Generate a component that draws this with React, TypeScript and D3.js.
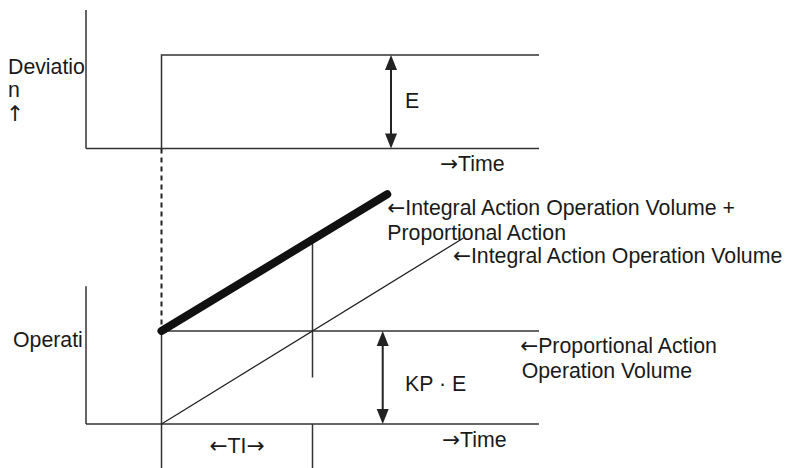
import * as d3 from 'd3'

// time axis (arbitrary units): step input at t=1, TI = 2 units
const timeDomain = [0, 6]
const stepTime = 1
const tiEndTime = 3

// deviation panel (E = 1)
const deviationStep = [
  { t: 1, v: 0 },
  { t: 1, v: 1 },
  { t: 6, v: 1 },
]
// operation panel (KP·E = 1)
const proportionalLine = [
  { t: 1, v: 1 },
  { t: 6, v: 1 },
]
const integralLine = [
  { t: 1, v: 0 },
  { t: 5, v: 2 },
]
const combinedLine = [
  { t: 1, v: 1 },
  { t: 3.99, v: 2.47 },
]
const axisTop = 1.48
const eArrowTime = 4.04
const kpArrowTime = 3.93

const rightLabels = [
  { text: '←Integral Action Operation Volume +', t: 3.99, v: 2.25 },
  { text: 'Proportional Action', t: 3.99, v: 1.98 },
  { text: '←Integral Action Operation Volume', t: 4.86, v: 1.73 },
  { text: '←Proportional Action', t: 5.75, v: 0.765 },
  { text: 'Operation Volume', t: 5.77, v: 0.495 },
]

const INK = '#333'
const FONT = '"Liberation Sans", Arial, Helvetica, sans-serif'
const ARROW_FONT = '"DejaVu Sans", sans-serif'

// arrows are drawn with DejaVu so they get full-size glyphs
function Label({ x, y, text, anchor }: { x: number; y: number; text: string; anchor?: string }) {
  const parts = text.split(/([←→↑])/).filter(p => p !== '')
  return (
    <text x={x} y={y} textAnchor={anchor ?? 'start'} style={{ fontFamily: FONT, fontSize: 21.3, fill: '#1a1a1a' }}>
      {parts.map((p, i) =>
        /[←→↑]/.test(p)
          ? <tspan key={i} style={{ fontFamily: ARROW_FONT, fontSize: 21.5 }}>{p}</tspan>
          : <tspan key={i}>{p}</tspan>
      )}
    </text>
  )
}

export default function App() {
  const width = 788
  const height = 468

  const x = d3.scaleLinear().domain(timeDomain).range([86, 539])
  const yTop = d3.scaleLinear().domain([0, 1]).range([148.5, 55])
  const yBot = d3.scaleLinear().domain([0, 1]).range([424, 331])

  const lineTop = d3.line<{ t: number; v: number }>().x(d => x(d.t)).y(d => yTop(d.v))
  const lineBot = d3.line<{ t: number; v: number }>().x(d => x(d.t)).y(d => yBot(d.v))

  const arrow = (xp: number, y1: number, y2: number) => {
    const hw = 6
    const hl = 15
    return (
      <g>
        <line x1={xp} x2={xp} y1={y1 + hl - 2} y2={y2 - hl + 2} stroke="#222" strokeWidth={2} />
        <path d={`M${xp},${y1} L${xp - hw},${y1 + hl} L${xp + hw},${y1 + hl} Z`} fill="#222" />
        <path d={`M${xp},${y2} L${xp - hw},${y2 - hl} L${xp + hw},${y2 - hl} Z`} fill="#222" />
      </g>
    )
  }

  return (
    <svg width={width} height={height} style={{ position: 'absolute', left: 0, top: 0, background: '#fff' }}>
      {/* Deviation panel */}
      <g>
        <line x1={x(0)} x2={x(0)} y1={yTop(axisTop)} y2={yTop(0)} stroke={INK} strokeWidth={1.5} />
        <line x1={x(0)} x2={x(6)} y1={yTop(0)} y2={yTop(0)} stroke={INK} strokeWidth={1.5} />
        <path d={lineTop(deviationStep) ?? ''} fill="none" stroke={INK} strokeWidth={1.5} />
        {arrow(x(eArrowTime), yTop(1), yTop(0))}
        <Label x={x(4.225)} y={yTop(0.433)} text="E" />
        <Label x={x(4.69)} y={yTop(-0.24)} text="→Time" />
        <Label x={8} y={74} text="Deviatio" />
        <Label x={8} y={97} text="n" />
        <Label x={6} y={121} text="↑" />
      </g>

      {/* step marker connecting both panels */}
      <line
        x1={x(stepTime)} x2={x(stepTime)}
        y1={yTop(0)} y2={yBot(1)}
        stroke="#222" strokeWidth={2} strokeDasharray="5,4"
      />

      {/* Operation panel */}
      <g>
        <line x1={x(0)} x2={x(0)} y1={yBot(axisTop)} y2={yBot(0)} stroke={INK} strokeWidth={1.5} />
        <line x1={x(0)} x2={x(6)} y1={yBot(0)} y2={yBot(0)} stroke={INK} strokeWidth={1.5} />
        <line x1={x(stepTime)} x2={x(stepTime)} y1={yBot(1)} y2={yBot(-0.48)} stroke={INK} strokeWidth={1.5} />
        <line x1={x(tiEndTime)} x2={x(tiEndTime)} y1={yBot(2)} y2={yBot(0.5)} stroke={INK} strokeWidth={1.5} />
        <line x1={x(tiEndTime)} x2={x(tiEndTime)} y1={yBot(0)} y2={yBot(-0.48)} stroke={INK} strokeWidth={1.5} />
        <path d={lineBot(proportionalLine) ?? ''} fill="none" stroke={INK} strokeWidth={1.5} />
        <path d={lineBot(integralLine) ?? ''} fill="none" stroke="#222" strokeWidth={1.3} />
        <path d={lineBot(combinedLine) ?? ''} fill="none" stroke="#111" strokeWidth={8} strokeLinecap="round" />
        {arrow(x(kpArrowTime), yBot(1), yBot(0))}
        <Label x={x(4.225)} y={yBot(0.355)} text="KP · E" />
        <Label x={x(4.715)} y={yBot(-0.25)} text="→Time" />
        <Label x={x(2)} y={yBot(-0.31)} anchor="middle" text="←TI→" />
        <Label x={13} y={347} text="Operati" />
        {rightLabels.map(d => (
          <Label key={d.text} x={x(d.t)} y={yBot(d.v)} text={d.text} />
        ))}
      </g>
    </svg>
  )
}
